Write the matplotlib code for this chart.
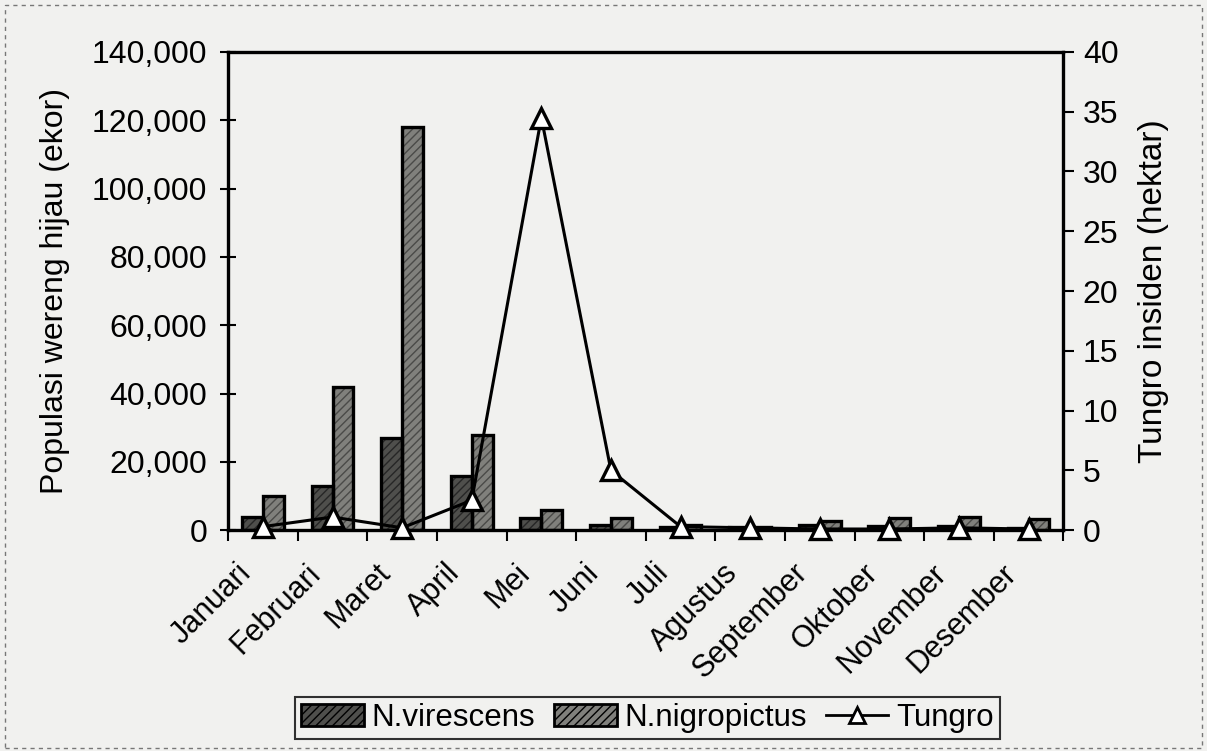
import matplotlib
matplotlib.use("Agg")
import matplotlib.pyplot as plt
import matplotlib.transforms as mtransforms
import numpy as np
from matplotlib.ticker import FuncFormatter, FixedLocator
from matplotlib.patches import Patch
from matplotlib.lines import Line2D

plt.rcParams['font.family'] = ['Liberation Sans', 'DejaVu Sans']

months = ["Januari", "Februari", "Maret", "April", "Mei", "Juni", "Juli",
          "Agustus", "September", "Oktober", "November", "Desember"]
virescens = [4000, 13000, 27000, 16000, 3500, 1500, 1000, 1000, 1500, 1200, 1300, 700]
nigropictus = [10000, 42000, 118000, 28000, 6000, 3500, 1500, 1000, 2800, 3500, 3800, 3200]
tungro = [0.3, 1.1, 0.2, 2.5, 34.5, 5.0, 0.3, 0.2, 0.1, 0.1, 0.2, 0.1]

bg = '#f1f1ef'
c_vir = '#4f4f4c'
c_nig = '#80807c'
fig = plt.figure(figsize=(12.07, 7.51), dpi=100, facecolor=bg)
ax = fig.add_axes([0.189, 0.294, 0.692, 0.637])
ax.set_facecolor(bg)
x = np.arange(len(months))
w = 0.3

ax.bar(x - w/2, virescens, w, color=c_vir, edgecolor='#262626', hatch='////', linewidth=0, zorder=2)
ax.bar(x + w/2, nigropictus, w, color=c_nig, edgecolor='#4a4a48', hatch='////', linewidth=0, zorder=2)
ax.bar(x - w/2, virescens, w, fill=False, edgecolor='black', linewidth=2.4, zorder=3)
ax.bar(x + w/2, nigropictus, w, fill=False, edgecolor='black', linewidth=2.4, zorder=3)

ax.set_xlim(-0.5, len(months) - 0.5)
ax.set_ylim(0, 140000)
ax.yaxis.set_major_locator(FixedLocator(np.arange(0, 140001, 20000)))
ax.yaxis.set_major_formatter(FuncFormatter(lambda v, p: f"{int(v):,}"))
ax.tick_params(axis='y', direction='inout', length=12, width=1.5, labelsize=23, pad=9)
ax.set_xticks(x)
ax.set_xticklabels(months, rotation=45, ha='right', rotation_mode='anchor', fontsize=22)
ax.tick_params(axis='x', which='major', length=0, pad=20)
offset = mtransforms.ScaledTranslation(-0.27, 0, fig.dpi_scale_trans)
for lbl in ax.get_xticklabels():
    lbl.set_transform(lbl.get_transform() + offset)
ax.set_xticks(np.arange(-0.5, len(months) + 0.5, 1), minor=True)
ax.tick_params(axis='x', which='minor', direction='out', length=8, width=1.5)
for s in ax.spines.values():
    s.set_linewidth(2.4)
ax.set_ylabel("Populasi wereng hijau (ekor)", fontsize=23, labelpad=16)

ax2 = ax.twinx()
ax2.set_ylim(0, 40)
ax2.yaxis.set_major_locator(FixedLocator(np.arange(0, 41, 5)))
ax2.tick_params(axis='y', direction='out', length=8, width=1.5, labelsize=23, pad=6)
ax2.plot(x, tungro, color='black', linewidth=2.2, marker='^', markersize=15,
         markerfacecolor='white', markeredgecolor='black', markeredgewidth=2.4,
         zorder=5, clip_on=False, label='Tungro')
ax2.set_ylabel("Tungro insiden (hektar)", fontsize=24, labelpad=14)

handles = [Patch(facecolor=c_vir, edgecolor='black', hatch='////', linewidth=2),
           Patch(facecolor=c_nig, edgecolor='black', hatch='////', linewidth=2),
           Line2D([0], [0], color='black', linewidth=2, marker='^', markersize=12,
                  markerfacecolor='white', markeredgecolor='black', markeredgewidth=2)]
leg = fig.legend(handles, ["N.virescens", "N.nigropictus", "Tungro"], loc='center',
                 bbox_to_anchor=(0.5365, 0.044), ncol=3, fontsize=22.5, frameon=True,
                 fancybox=False, edgecolor='black', facecolor=bg, handlelength=2.0,
                 handletextpad=0.25, columnspacing=0.6, borderpad=0.2, borderaxespad=0)
leg.get_frame().set_linewidth(1.5)

fig.patches.append(plt.Rectangle((0.004, 0.004), 0.992, 0.99, transform=fig.transFigure,
                                 fill=False, edgecolor='#777777', linewidth=1, linestyle=(0, (3, 3))))

fig.savefig("out.png", dpi=100, facecolor=bg)
